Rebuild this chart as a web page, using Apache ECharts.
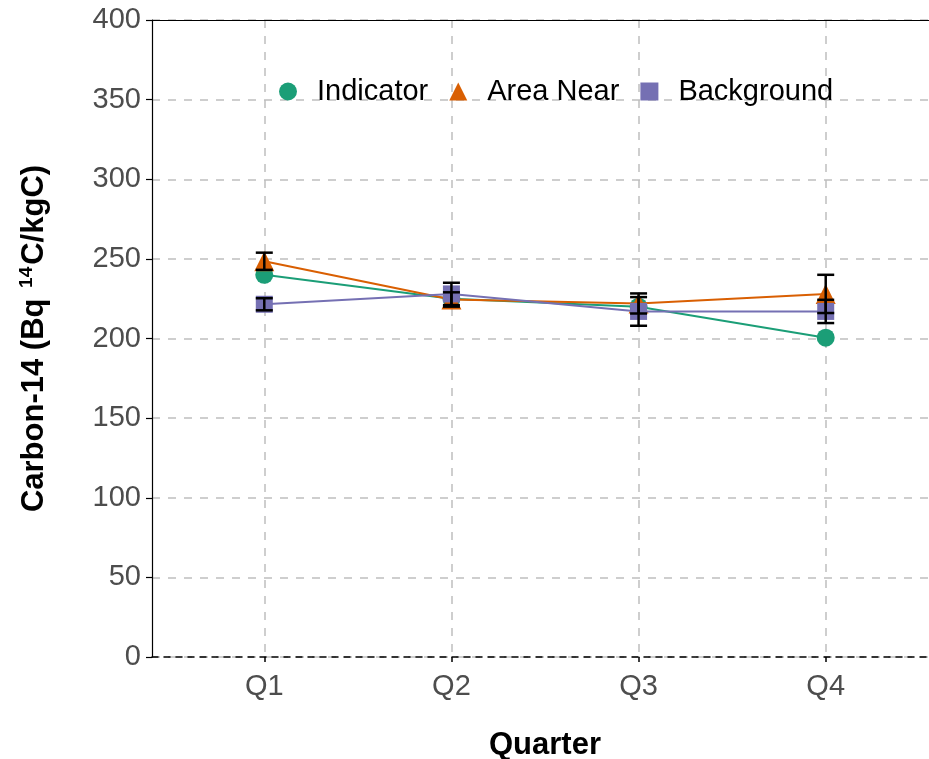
<!DOCTYPE html>
<html><head><meta charset="utf-8">
<script src="https://cdn.jsdelivr.net/npm/echarts@6/dist/echarts.min.js"></script>
<style>html,body{margin:0;padding:0;background:#fff}#c{width:929px;height:759px}</style>
</head><body><div id="c"></div>
<script>
const quarters = ['Q1','Q2','Q3','Q4'];
const xPos = [1,2,3,4];
const indicator = [240, 225, 220, 200.5];
const areaNear = [248.5, 224.5, 222, 228];
const areaNearErr = [5.4, 4.5, 6.3, 12];
const background = [221.5, 228, 217, 217];
const backgroundErr = [3.8, 7, 9, 7.3];
const yTicks = [0,50,100,150,200,250,300,350,400];

const colors = {ind:'#1B9E77', near:'#D95F02', bg:'#7570B3'};
const pts = arr => arr.map((v,i)=>[xPos[i], v]);
const errData = [];
areaNear.forEach((v,i)=>errData.push([xPos[i], v-areaNearErr[i], v+areaNearErr[i]]));
background.forEach((v,i)=>errData.push([xPos[i], v-backgroundErr[i], v+backgroundErr[i]]));

const FONT = 'Liberation Sans, Arial, sans-serif';
const chart = echarts.init(document.getElementById('c'), null, {renderer:'canvas'});
chart.setOption({
  animation:false,
  textStyle:{fontFamily:FONT},
  grid:{left:152, top:20, width:786, height:637, outerBoundsMode:'none', containLabel:false},
  legend:{
    top:72, left:274, itemGap:21, itemWidth:18, itemHeight:18,
    textStyle:{fontSize:29, color:'#000', fontFamily:FONT, padding:[0,0,0,15]},
    data:[{name:'Indicator', icon:'circle'},{name:'Area Near', icon:'triangle'},{name:'Background', icon:'rect'}]
  },
  xAxis:[{
    type:'value', min:0.4, max:4.6, position:'bottom',
    name:'Quarter', nameLocation:'middle', nameGap:73,
    nameTextStyle:{fontSize:31, fontWeight:'bold', color:'#000', fontFamily:FONT},
    axisLine:{show:true, onZero:false, lineStyle:{color:'#000', width:1.5, type:[6,6]}},
    axisTick:{show:true, length:5, customValues:xPos, lineStyle:{color:'#000', width:1.5}},
    axisLabel:{customValues:xPos, fontSize:29, color:'#4D4D4D', margin:15, formatter:v=>quarters[Math.round(v)-1]||''},
    splitLine:{show:true, lineStyle:{color:'#BEBEBE', width:1.5, type:[8,8]}}
  },{
    type:'value', min:0.4, max:4.6, position:'top',
    axisLine:{show:true, onZero:false, lineStyle:{color:'#000', width:1.2}},
    axisTick:{show:false}, axisLabel:{show:false}, splitLine:{show:false}
  }],
  yAxis:{
    type:'value', min:0, max:400, interval:50,
    name:'{b|Carbon-14 (Bq }{s|14}{b|C/kgC)}', nameLocation:'middle', nameGap:100, nameRotate:90,
    nameTextStyle:{rich:{
      b:{fontSize:31, fontWeight:'bold', color:'#000', fontFamily:FONT},
      s:{fontSize:19, fontWeight:'bold', color:'#000', fontFamily:FONT, verticalAlign:'top', padding:[0,2,16,2]}
    }},
    axisLine:{show:true, lineStyle:{color:'#000', width:1.2}},
    axisTick:{show:true, length:6, lineStyle:{color:'#000', width:1.2}},
    axisLabel:{fontSize:29, color:'#4D4D4D', margin:11},
    splitLine:{show:true, lineStyle:{color:'#BEBEBE', width:1.5, type:[8,8]}}
  },
  series:[
    {name:'Indicator', type:'line', data:pts(indicator), symbol:'circle', symbolSize:18,
     itemStyle:{color:colors.ind}, lineStyle:{color:colors.ind, width:2}, z:3},
    {name:'Area Near', type:'line', data:pts(areaNear), symbol:'triangle', symbolSize:20,
     itemStyle:{color:colors.near}, lineStyle:{color:colors.near, width:2}, z:4},
    {name:'Background', type:'line', data:pts(background), symbol:'rect', symbolSize:17,
     itemStyle:{color:colors.bg}, lineStyle:{color:colors.bg, width:2}, z:5},
    {name:'err', type:'custom', z:10, data:errData, encode:{x:0, y:[1,2]},
     renderItem:(params, api)=>{
       const lo = api.coord([api.value(0), api.value(1)]);
       const hi = api.coord([api.value(0), api.value(2)]);
       const w = 8.5;
       const st = {stroke:'#000', lineWidth:2.5};
       return {type:'group', children:[
         {type:'line', shape:{x1:lo[0], y1:lo[1], x2:hi[0], y2:hi[1]}, style:st},
         {type:'line', shape:{x1:lo[0]-w, y1:lo[1], x2:lo[0]+w, y2:lo[1]}, style:st},
         {type:'line', shape:{x1:hi[0]-w, y1:hi[1], x2:hi[0]+w, y2:hi[1]}, style:st}
       ]};
     }}
  ]
});
</script></body></html>
